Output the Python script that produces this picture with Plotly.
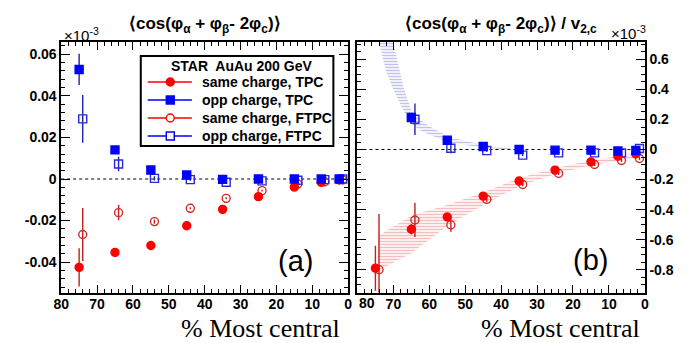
import plotly.graph_objects as go

# ---------------- data ----------------
cent_tpc = [75, 65, 55, 45, 35, 25, 15, 7.5, 2.5]
cent_ftpc = [74, 64, 54, 44, 34, 24, 14, 6.5, 1.5]

# panel (a): <cos(phi_a + phi_b - 2 phi_c)>  (axis labelled x10^-3)
a_same_tpc = [-0.0425, -0.0353, -0.0320, -0.0225, -0.0146, -0.0085, -0.0039, -0.0016, -0.0005]
a_same_tpc_err = [0.0092, 0.0020, 0.0007, 0.0006, 0.0005, 0.0004, 0.0003, 0.0003, 0.0003]
a_opp_tpc = [0.0527, 0.0140, 0.0043, 0.0019, -0.0002, 0.0, 0.0, 0.0, 0.0]
a_opp_tpc_err = [0.0075, 0.0020, 0.0006, 0.0005, 0.0004, 0.0003, 0.0003, 0.0003, 0.0003]
a_same_ftpc = [-0.0267, -0.0162, -0.0205, -0.0141, -0.0093, -0.0056, -0.0024, -0.0013, -0.0005]
a_same_ftpc_err = [0.0127, 0.0037, 0.0010, 0.0005, 0.0005, 0.0004, 0.0003, 0.0003, 0.0003]
a_opp_ftpc = [0.0289, 0.0072, 0.0003, -0.0003, -0.0016, -0.0009, -0.0006, -0.0003, 0.0]
a_opp_ftpc_err = [0.0115, 0.0035, 0.0010, 0.0005, 0.0005, 0.0004, 0.0003, 0.0003, 0.0003]

# panel (b): <cos(...)> / v2,c
b_same_tpc = [-0.79, -0.531, -0.449, -0.31, -0.21, -0.137, -0.082, -0.044, -0.029]
b_same_tpc_err = [0.15, 0.035, 0.02, 0.012, 0.01, 0.01, 0.01, 0.01, 0.01]
b_opp_tpc = [None, 0.213, 0.062, 0.020, 0.0, -0.004, -0.004, -0.010, -0.006]
b_opp_tpc_err = [0, 0.02, 0.008, 0.005, 0.005, 0.005, 0.005, 0.005, 0.005]
b_same_ftpc = [-0.80, -0.469, -0.502, -0.332, -0.233, -0.159, -0.100, -0.073, -0.060]
b_same_ftpc_err = [0.37, 0.114, 0.045, 0.015, 0.012, 0.01, 0.01, 0.01, 0.01]
b_opp_ftpc = [None, 0.202, 0.009, -0.007, -0.037, -0.022, -0.022, -0.022, 0.007]
b_opp_ftpc_err = [0, 0.105, 0.033, 0.008, 0.006, 0.005, 0.005, 0.005, 0.005]

# systematic bands, panel (b)
band_opp_x = [79, 75, 72, 70, 67, 65, 62, 60, 55, 50, 45, 40, 36]
band_opp_hi = [1.7, 1.15, 0.86, 0.71, 0.40, 0.26, 0.19, 0.155, 0.09, 0.055, 0.035, 0.015, 0.004]
band_opp_lo = [1.2, 0.80, 0.52, 0.40, 0.25, 0.17, 0.12, 0.10, 0.05, 0.03, 0.013, 0.004, 0.0]
band_same_x = [74.3, 65, 55, 45, 35, 25, 15, 7.5, 2.5]
band_same_hi = [-0.575, -0.44, -0.37, -0.285, -0.19, -0.125, -0.072, -0.042, -0.027]
band_same_lo = [-0.808, -0.69, -0.51, -0.37, -0.245, -0.165, -0.105, -0.075, -0.060]

xticks = [80, 70, 60, 50, 40, 30, 20, 10, 0]
xticklabels_a = ["80", "70", "60", "50", "40", "30", "20", "10", "0"]
xticklabels_b = ["", "70", "60", "50", "40", "30", "20", "10", "0"]
xb_first_label = "80"   # drawn nudged to the right, as in the original
ya_ticks = [0.06, 0.04, 0.02, 0, -0.02, -0.04]
ya_ticklabels = ["0.06", "0.04", "0.02", "0", "-0.02", "-0.04"]
yb_ticks = [0.6, 0.4, 0.2, 0, -0.2, -0.4, -0.6, -0.8]
yb_ticklabels = ["0.6", "0.4", "0.2", "0", "-0.2", "-0.4", "-0.6", "-0.8"]

legend_title = "STAR  AuAu 200 GeV"
legend_names = ["same charge, TPC", "opp charge, TPC", "same charge, FTPC", "opp charge, FTPC"]

# ---------------- style ----------------
W, H = 689, 343
RED = "#ff0000"
RED_OPEN = "#d42a2a"
RED_ERR = "#c02020"
BLUE = "#0000ff"
BLUE_OPEN = "#2a2ad4"
BLUE_ERR = "#2020b0"
SANS = "Liberation Sans"
SERIF = "Liberation Serif"


def PX(p):
    return p / W


def PY(p):
    return 1 - p / H


fig = go.Figure()


def band(x, hi, lo, xa, ya, color):
    fig.add_trace(go.Scatter(
        x=list(x) + list(x)[::-1], y=list(hi) + list(lo)[::-1],
        xaxis=xa, yaxis=ya, mode="lines", fill="toself",
        line=dict(width=0, color=color),
        fillcolor="rgba(0,0,0,0)",
        fillpattern=dict(shape="-", fgcolor=color, bgcolor="rgba(0,0,0,0)", size=3, solidity=0.5),
        hoverinfo="skip", showlegend=False))


def series(x, y, err, xa, ya, symbol, color, ecolor, size):
    fig.add_trace(go.Scatter(
        x=x, y=y, xaxis=xa, yaxis=ya, mode="markers",
        marker=dict(symbol=symbol, size=size, color=color, line=dict(color=color, width=1.4)),
        error_y=dict(type="data", array=err, color=ecolor, thickness=1.4, width=0),
        showlegend=False))


band(band_opp_x, band_opp_hi, band_opp_lo, "x2", "y2", "rgba(110,110,210,0.85)")
band(band_same_x, band_same_hi, band_same_lo, "x2", "y2", "rgba(232,100,100,0.85)")

for xa, ya, st, ste, ot, ote, sf, sfe, of, ofe in [
    ("x", "y", a_same_tpc, a_same_tpc_err, a_opp_tpc, a_opp_tpc_err,
     a_same_ftpc, a_same_ftpc_err, a_opp_ftpc, a_opp_ftpc_err),
    ("x2", "y2", b_same_tpc, b_same_tpc_err, b_opp_tpc, b_opp_tpc_err,
     b_same_ftpc, b_same_ftpc_err, b_opp_ftpc, b_opp_ftpc_err)]:
    series(cent_ftpc, sf, sfe, xa, ya, "circle-open", RED_OPEN, RED_ERR, 8)
    series(cent_ftpc, of, ofe, xa, ya, "square-open", BLUE_OPEN, BLUE_ERR, 8)
    series(cent_tpc, st, ste, xa, ya, "circle", RED, RED_ERR, 8)
    series(cent_tpc, ot, ote, xa, ya, "square", BLUE, BLUE_ERR, 8)

xdomA = [46 / W, 338 / W]
xdomB = [347.5 / W, 640 / W]
ydom = [1 - 284.5 / H, 1 - 34 / H]

tickfont = dict(family=SANS, size=14, color="black", weight="bold")


def xaxis_cfg(dom, anchor, labels):
    return dict(
        domain=dom, anchor=anchor,
        range=[80, 0], tickmode="array", tickvals=xticks, ticktext=labels,
        ticks="inside", ticklen=8, tickwidth=1, tickcolor="black",
        minor=dict(ticks="inside", ticklen=4, dtick=2, tickcolor="black", tickwidth=1),
        showline=True, linecolor="black", linewidth=1.5, mirror="allticks",
        showgrid=False, zeroline=False, ticklabelstandoff=-2,
        tickfont=tickfont)


common_y = dict(
    tickmode="array", ticks="inside", ticklen=9, tickwidth=1, tickcolor="black",
    showline=True, linecolor="black", linewidth=1.5, mirror="allticks",
    showgrid=False, zeroline=False, tickfont=tickfont)

fig.update_layout(
    width=W, height=H, autosize=False,
    margin=dict(l=0, r=0, t=0, b=0),
    paper_bgcolor="white", plot_bgcolor="white",
    showlegend=False,
    xaxis=xaxis_cfg(xdomA, "y", xticklabels_a),
    xaxis2=xaxis_cfg(xdomB, "y2", xticklabels_b),
    yaxis=dict(domain=ydom, anchor="x", range=[-0.0546, 0.0659],
               tickvals=ya_ticks, ticktext=ya_ticklabels,
               minor=dict(ticks="inside", ticklen=4, dtick=0.004, tick0=0, tickcolor="black"),
               **common_y),
    yaxis2=dict(domain=ydom, anchor="x2", side="right", range=[-0.952, 0.716],
                tickvals=yb_ticks, ticktext=yb_ticklabels,
                minor=dict(ticks="inside", ticklen=4, dtick=0.05, tick0=0, tickcolor="black"),
                **common_y),
)

# zero reference lines
for xr, yr in [("x domain", "y"), ("x2 domain", "y2")]:
    fig.add_shape(type="line", xref=xr, yref=yr, x0=0, x1=1, y0=0, y1=0,
                  line=dict(color="black", width=1, dash="dot"), layer="below")

# first x label of panel (b), shifted right like in the original
fig.add_annotation(xref="paper", yref="paper", x=PX(357), y=PY(295),
                   text=xb_first_label, showarrow=False, font=tickfont,
                   xanchor="center", yanchor="middle")

# ---------------- legend box (drawn by hand, ROOT style) ----------------
leg_font = dict(family=SANS, size=14, color="black", weight="bold")
fig.add_shape(type="rect", xref="paper", yref="paper",
              x0=PX(127), x1=PX(323), y0=PY(138), y1=PY(48),
              fillcolor="white", line=dict(color="black", width=2))
fig.add_annotation(xref="paper", yref="paper", x=PX(229), y=PY(58),
                   text=legend_title, showarrow=False, font=leg_font,
                   xanchor="center", yanchor="middle")
row_y = [74, 92, 110, 128]
leg_styles = [("circle", RED, RED), ("rect", BLUE, BLUE),
              ("circle", "white", RED), ("rect", "white", BLUE)]
for name, ry, (shp, fillc, linec) in zip(legend_names, row_y, leg_styles):
    fig.add_shape(type="line", xref="paper", yref="paper",
                  x0=PX(134), x1=PX(179), y0=PY(ry), y1=PY(ry),
                  line=dict(color=linec, width=1.6))
    fig.add_shape(type=shp, xref="paper", yref="paper",
                  xsizemode="pixel", ysizemode="pixel",
                  xanchor=PX(157), yanchor=PY(ry), x0=-4, x1=4, y0=-4, y1=4,
                  fillcolor=fillc, line=dict(color=linec, width=1.4))
    fig.add_annotation(xref="paper", yref="paper", x=PX(187), y=PY(ry),
                       text=name, showarrow=False, font=leg_font,
                       xanchor="left", yanchor="middle")

# ---------------- titles and labels ----------------
title_font = dict(family=SANS, size=17, color="black", weight="bold")
fig.add_annotation(xref="x domain", yref="paper", x=0.5, y=PY(17),
                   text="⟨cos(φ<sub>α</sub> + φ<sub>β</sub>- 2φ<sub>c</sub>)⟩",
                   showarrow=False, font=title_font, xanchor="center", yanchor="middle")
fig.add_annotation(xref="x2 domain", yref="paper", x=0.5, y=PY(17),
                   text="⟨cos(φ<sub>α</sub> + φ<sub>β</sub>- 2φ<sub>c</sub>)⟩ / v<sub>2,c</sub>",
                   showarrow=False, font=title_font, xanchor="center", yanchor="middle")

exp_font = dict(family=SANS, size=15, color="black")
fig.add_annotation(xref="paper", yref="paper", x=PX(47), y=PY(26),
                   text="×10<sup>-3</sup>", showarrow=False, font=exp_font,
                   xanchor="left", yanchor="middle")
fig.add_annotation(xref="paper", yref="paper", x=PX(643), y=PY(24),
                   text="×10<sup>-3</sup>", showarrow=False, font=exp_font,
                   xanchor="right", yanchor="middle")

panel_font = dict(family=SANS, size=29, color="black")
fig.add_annotation(xref="paper", yref="paper", x=PX(284), y=PY(253),
                   text="(a)", showarrow=False, font=panel_font,
                   xanchor="center", yanchor="middle")
fig.add_annotation(xref="paper", yref="paper", x=PX(585), y=PY(252),
                   text="(b)", showarrow=False, font=panel_font,
                   xanchor="center", yanchor="middle")

xt_font = dict(family=SERIF, size=26, color="black")
for lx in (166, 471):
    fig.add_annotation(xref="paper", yref="paper", x=PX(lx), y=PY(337),
                       text="% Most central", showarrow=False, font=xt_font,
                       xanchor="left", yanchor="bottom")

fig.write_html("out.html")
